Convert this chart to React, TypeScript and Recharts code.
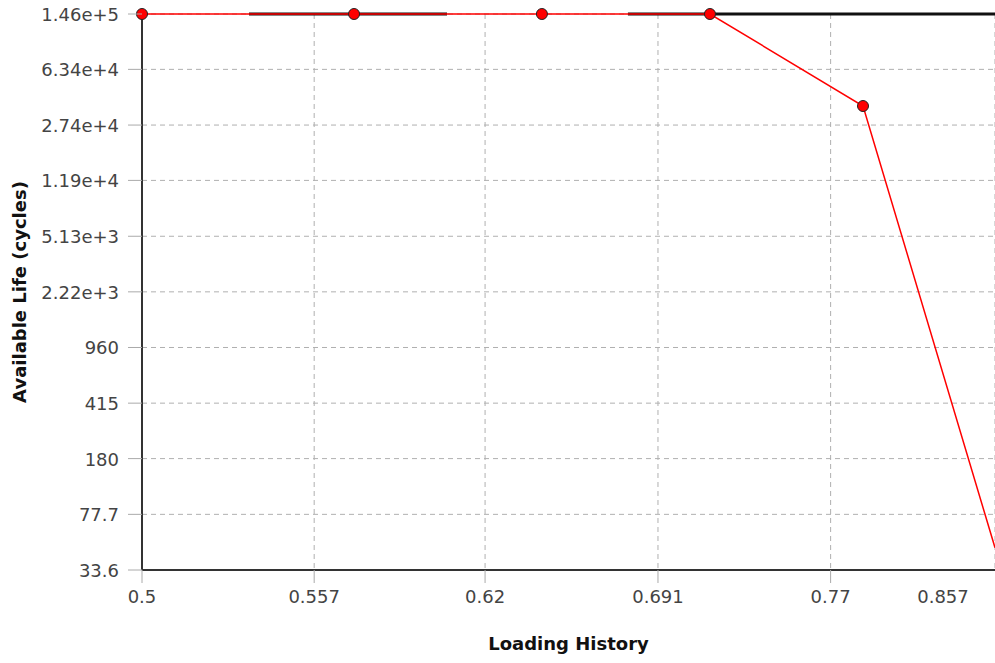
import { LineChart, Line, XAxis, YAxis, CartesianGrid } from "recharts";

// loading history (x) vs available life in cycles (y), log/log
const loadX = [0.5, 0.5711, 0.6425, 0.7139, 0.7858, 0.8536];
const lifeY = [146000, 146000, 146000, 146000, 36500, 47];

// black segments along the top edge
const capX = [0.5347, 0.6054, 0.64, 0.6781, 0.8536];
const capY: (number | null)[] = [146000, 146000, null, 146000, 146000];

const xTicks = [0.5, 0.557, 0.62, 0.691, 0.77, 0.857];
const xTickLabels = ["0.5", "0.557", "0.62", "0.691", "0.77", "0.857"];
const yTicks = [33.6, 77.7, 180, 415, 960, 2220, 5130, 11900, 27400, 63400, 146000];
const yTickLabels = [
  "33.6", "77.7", "180", "415", "960", "2.22e+3",
  "5.13e+3", "1.19e+4", "2.74e+4", "6.34e+4", "1.46e+5",
];

const W = 995;
const H = 663;
const FONT = "'DejaVu Sans', Verdana, sans-serif";

const series = loadX.map((x, i) => ({ x, y: lifeY[i] }));
const caps = capX.map((x, i) => ({ x, y: capY[i] }));

function XTick(props: any) {
  const { x, y, payload } = props;
  const i = xTicks.indexOf(payload.value);
  const lx = Math.min(x, W - 52);
  return (
    <g>
      {x <= W && <line x1={x} x2={x} y1={y - 8} y2={y + 5} stroke="#aaa" />}
      <text x={lx} y={y + 25} textAnchor="middle" fill="#444" fontSize={18} fontFamily={FONT}>
        {xTickLabels[i]}
      </text>
    </g>
  );
}

function YTick(props: any) {
  const { x, y, payload } = props;
  const i = yTicks.indexOf(payload.value);
  return (
    <g>
      <line x1={x - 6} x2={x + 8} y1={y} y2={y} stroke="#aaa" />
      <text x={x - 15} y={y + 7} textAnchor="end" fill="#444" fontSize={18} fontFamily={FONT}>
        {yTickLabels[i]}
      </text>
    </g>
  );
}

function Dot(props: any) {
  const { cx, cy } = props;
  if (cx == null || cy == null || cx > W - 3) return null;
  return <circle cx={cx} cy={cy} r={5.5} fill="#ff0000" stroke="#222" strokeWidth={1} />;
}

export default function App() {
  return (
    <div style={{ position: "absolute", left: 0, top: 0, width: W, height: H, background: "#fff" }}>
      <LineChart width={W} height={H} margin={{ top: 14, right: 0, left: 0, bottom: 0 }}>
        <CartesianGrid stroke="#b0b0b0" strokeDasharray="5 4" />
        <XAxis
          dataKey="x"
          type="number"
          scale="log"
          domain={[0.5, 0.8536]}
          ticks={xTicks}
          interval={0}
          height={93}
          tickLine={false}
          axisLine={{ stroke: "#333", strokeWidth: 2 }}
          tick={<XTick />}
          label={{
            value: "Loading History",
            position: "insideBottom",
            offset: 13,
            fill: "#111",
            fontSize: 18,
            fontWeight: "bold",
            fontFamily: FONT,
          }}
        />
        <YAxis
          dataKey="y"
          type="number"
          scale="log"
          domain={[33.6, 146000]}
          ticks={yTicks}
          interval={0}
          width={142}
          tickLine={false}
          axisLine={{ stroke: "#333", strokeWidth: 2 }}
          tick={<YTick />}
          label={{
            value: "Available Life (cycles)",
            angle: -90,
            position: "insideLeft",
            offset: 20,
            style: { textAnchor: "middle" },
            fill: "#111",
            fontSize: 18,
            fontWeight: "bold",
            fontFamily: FONT,
          }}
        />
        <Line
          data={caps}
          dataKey="y"
          stroke="#111"
          strokeWidth={3}
          dot={false}
          connectNulls={false}
          isAnimationActive={false}
        />
        <Line
          data={series}
          dataKey="y"
          stroke="#ff0000"
          strokeWidth={1.5}
          dot={<Dot />}
          activeDot={false}
          isAnimationActive={false}
        />
      </LineChart>
    </div>
  );
}
